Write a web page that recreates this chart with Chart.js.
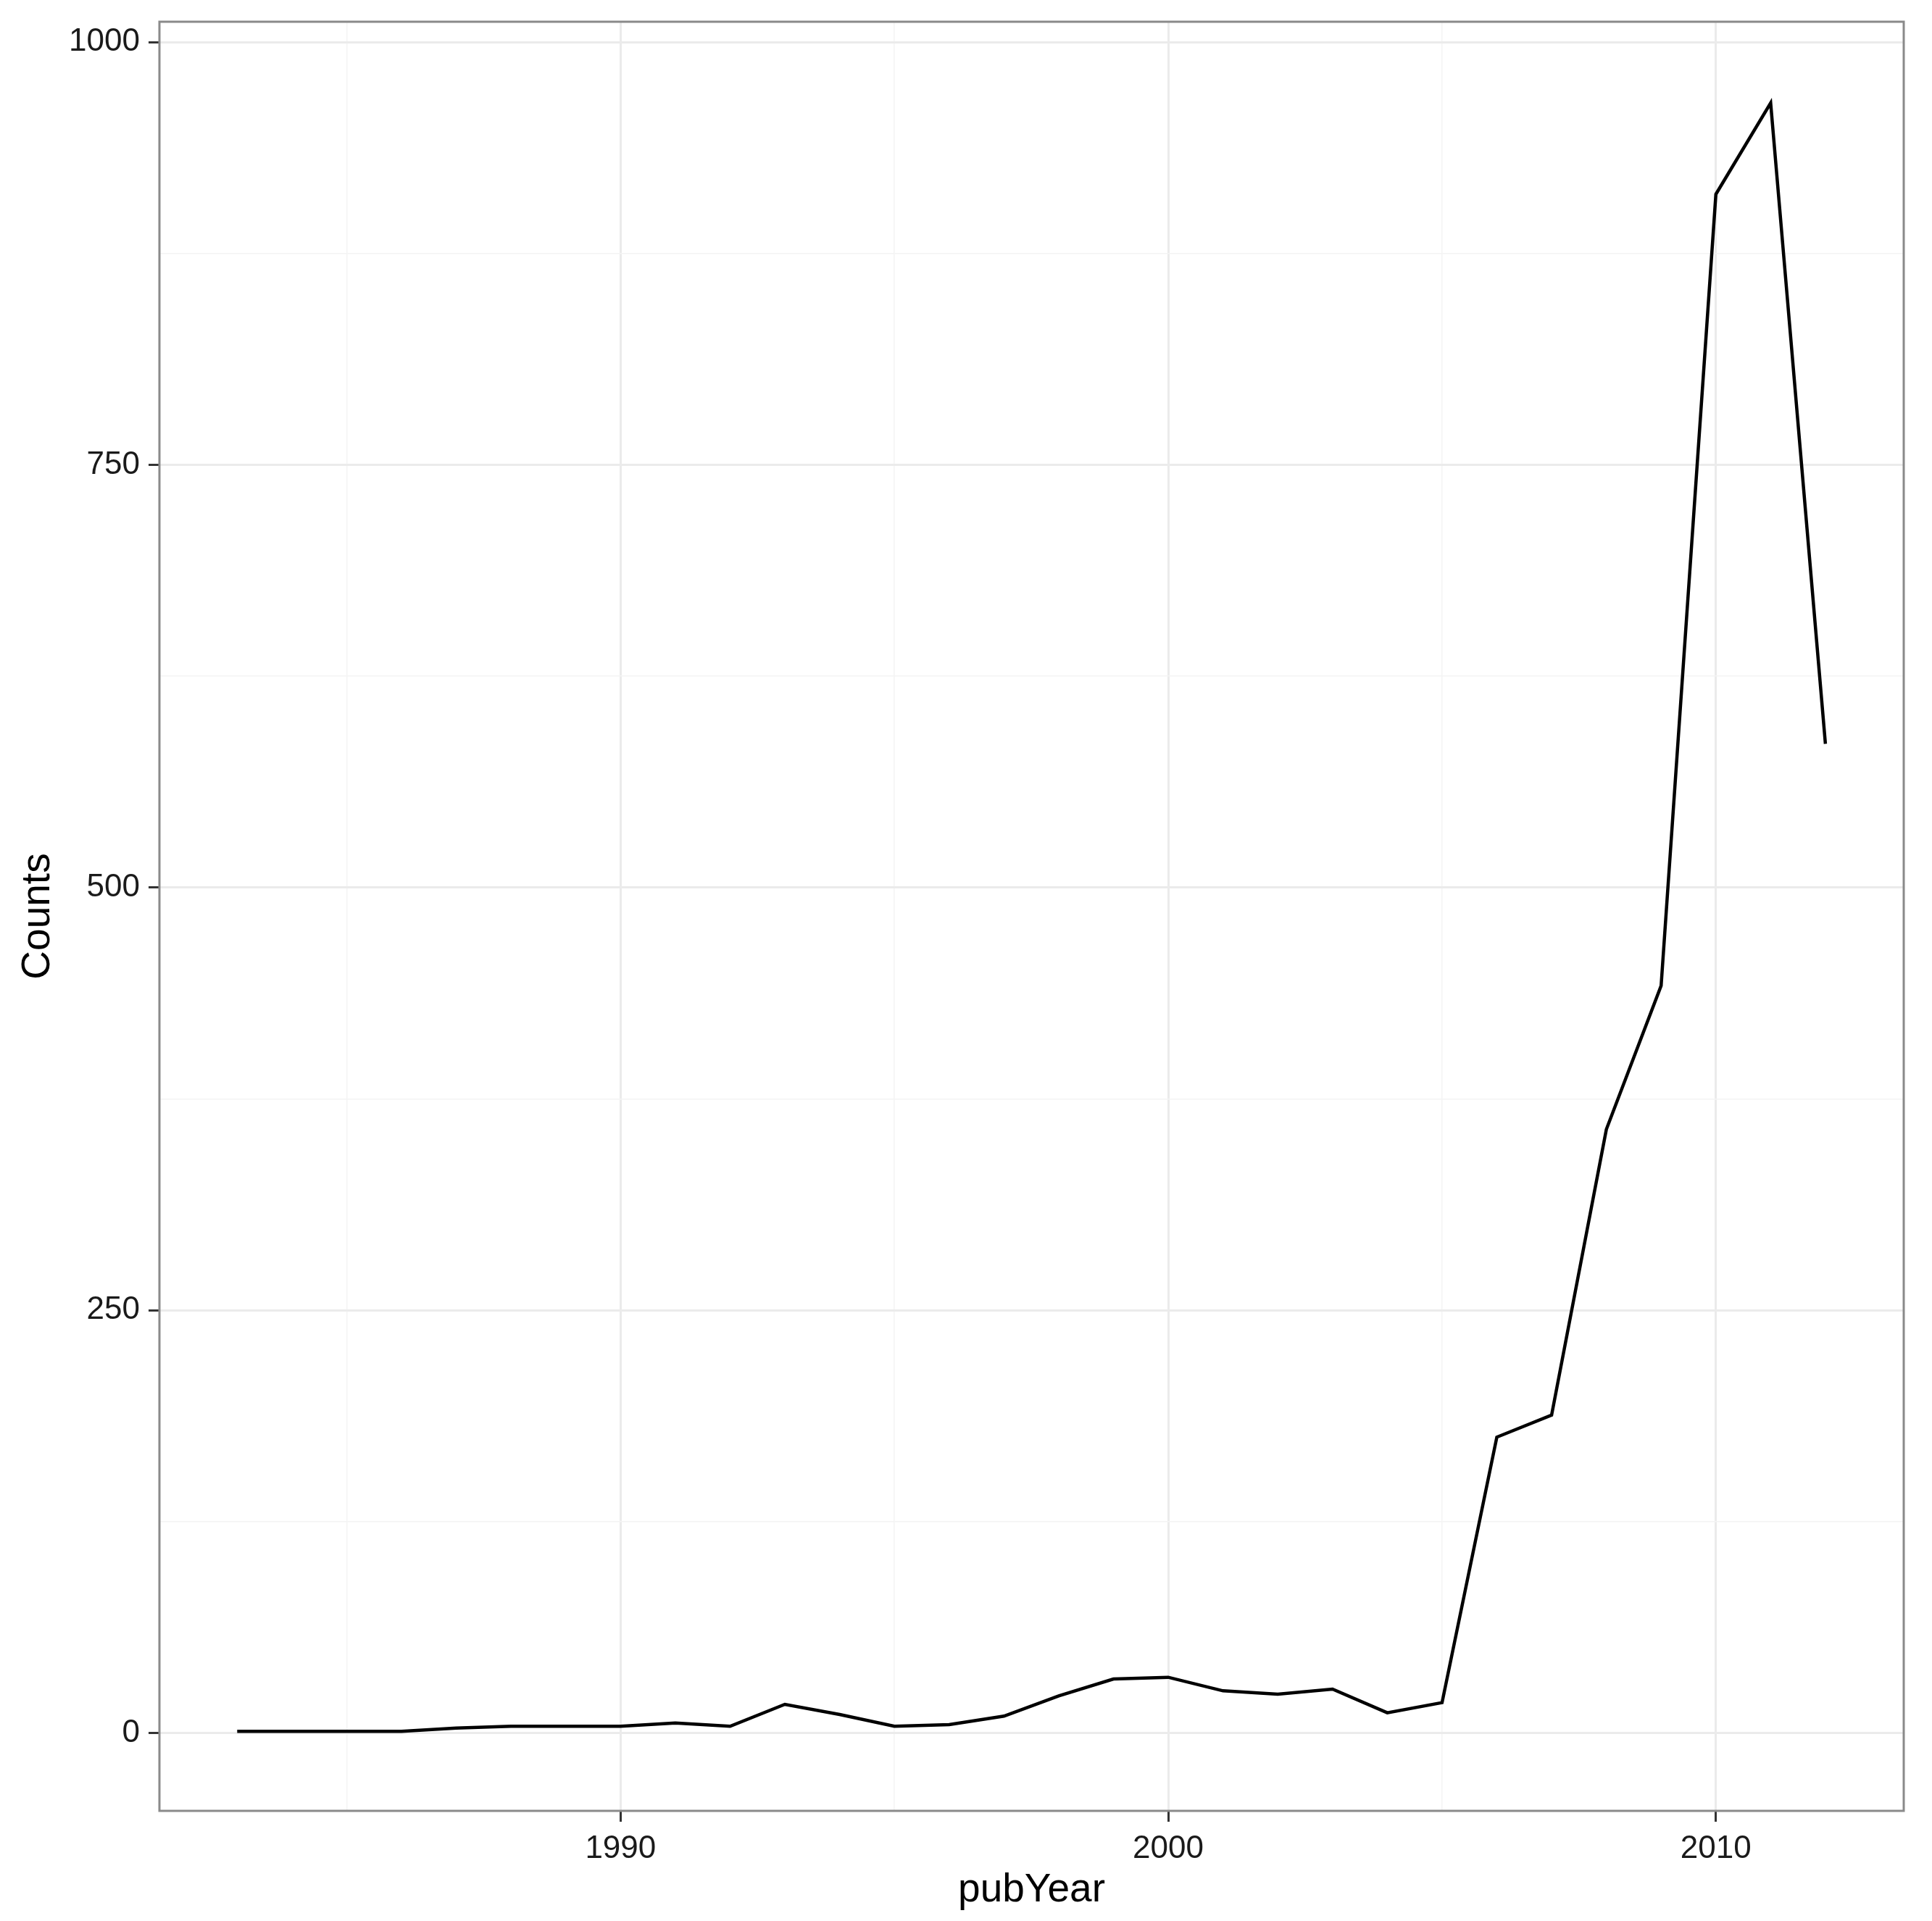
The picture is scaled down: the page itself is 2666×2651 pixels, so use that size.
<!DOCTYPE html>
<html>
<head>
<meta charset="utf-8">
<script src="https://cdn.jsdelivr.net/npm/chart.js@4.4.1/dist/chart.umd.min.js"></script>
<style>
  html, body { margin: 0; padding: 0; background: #fff; }
  canvas { display: block; }
</style>
</head>
<body>
<canvas id="myChart" width="2666" height="2651"></canvas>
<script>
'use strict';

let pubYears = [
  1983, 1984, 1985, 1986, 1987, 1988, 1989, 1990, 1991, 1992,
  1993, 1994, 1995, 1996, 1997, 1998, 1999, 2000, 2001, 2002,
  2003, 2004, 2005, 2006, 2007, 2008, 2009, 2010, 2011, 2012
];
let counts = [
  1, 1, 1, 1, 3, 4, 4, 4, 6, 4,
  17, 11, 4, 5, 10, 22, 32, 33, 25, 23,
  26, 12, 18, 175, 188, 357, 442, 910, 964, 585
];

// ticks: major ones get a label, minor ones only a light grid line
let xMajor = [1990, 2000, 2010];
let xMinor = [1985, 1995, 2005];
let yMajor = [0, 250, 500, 750, 1000];
let yMinor = [125, 375, 625, 875];

let xLabel = 'pubYear';
let yLabel = 'Counts';

const fontName = '"Liberation Sans", Arial, Helvetica, sans-serif';

function isMajor(list, v) {
  return list.includes(v);
}

// ggplot-like panel border around the plotting area
const panelBorder = {
  id: 'panelBorder',
  afterDraw(chart) {
    const a = chart.chartArea;
    const ctx = chart.ctx;
    ctx.save();
    ctx.strokeStyle = '#8a8a8a';
    ctx.lineWidth = 3;
    ctx.strokeRect(a.left, a.top, a.right - a.left, a.bottom - a.top);
    ctx.restore();
  }
};

let points = [];
for (let i = 0; i < pubYears.length; i++) {
  points.push({ x: pubYears[i], y: counts[i] });
}

let ctx = document.getElementById('myChart').getContext('2d');

let myChart = new Chart(ctx, {
  type: 'line',
  data: {
    datasets: [{
      label: yLabel,
      data: points,
      borderColor: '#000000',
      borderWidth: 4.5,
      pointRadius: 0,
      tension: 0,
      fill: false
    }]
  },
  options: {
    responsive: false,
    animation: false,
    devicePixelRatio: 1,
    layout: {
      padding: { top: 30, right: 39, bottom: 0, left: 0 }
    },
    plugins: {
      legend: { display: false },
      tooltip: { enabled: false }
    },
    scales: {
      x: {
        type: 'linear',
        min: 1981.58,
        max: 2013.43,
        afterBuildTicks: (scale) => {
          scale.ticks = xMinor.concat(xMajor).sort().map(v => ({ value: v }));
        },
        afterFit: (scale) => {
          scale.height = 152;
          scale.paddingLeft = 0;
          scale.paddingRight = 0;
        },
        border: { display: false },
        grid: {
          color: (c) => isMajor(xMajor, c.tick.value) ? '#ebebeb' : '#f4f4f4',
          lineWidth: (c) => isMajor(xMajor, c.tick.value) ? 3 : 1.5,
          tickColor: (c) => isMajor(xMajor, c.tick.value) ? '#333333' : 'rgba(0,0,0,0)',
          tickWidth: 3,
          tickLength: 15
        },
        ticks: {
          autoSkip: false,
          maxRotation: 0,
          padding: 11,
          color: '#1a1a1a',
          font: { family: fontName, size: 44 },
          callback: (v) => isMajor(xMajor, v) ? String(v) : ''
        },
        title: {
          display: true,
          text: xLabel,
          color: '#000000',
          font: { family: fontName, size: 55 },
          padding: { top: 0, bottom: 9 }
        }
      },
      y: {
        type: 'linear',
        min: -46,
        max: 1012,
        afterBuildTicks: (scale) => {
          scale.ticks = yMajor.concat(yMinor).sort((a, b) => a - b).map(v => ({ value: v }));
        },
        afterFit: (scale) => {
          scale.width = 220;
          scale.paddingTop = 0;
          scale.paddingBottom = 0;
        },
        border: { display: false },
        grid: {
          color: (c) => isMajor(yMajor, c.tick.value) ? '#ebebeb' : '#f4f4f4',
          lineWidth: (c) => isMajor(yMajor, c.tick.value) ? 3 : 1.5,
          tickColor: (c) => isMajor(yMajor, c.tick.value) ? '#333333' : 'rgba(0,0,0,0)',
          tickWidth: 3,
          tickLength: 15
        },
        ticks: {
          autoSkip: false,
          padding: 12,
          color: '#1a1a1a',
          font: { family: fontName, size: 44 },
          callback: (v) => isMajor(yMajor, v) ? String(v) : ''
        },
        title: {
          display: true,
          text: yLabel,
          color: '#000000',
          font: { family: fontName, size: 55 },
          padding: { top: 20, bottom: 0 }
        }
      }
    }
  },
  plugins: [panelBorder]
});
</script>
</body>
</html>
